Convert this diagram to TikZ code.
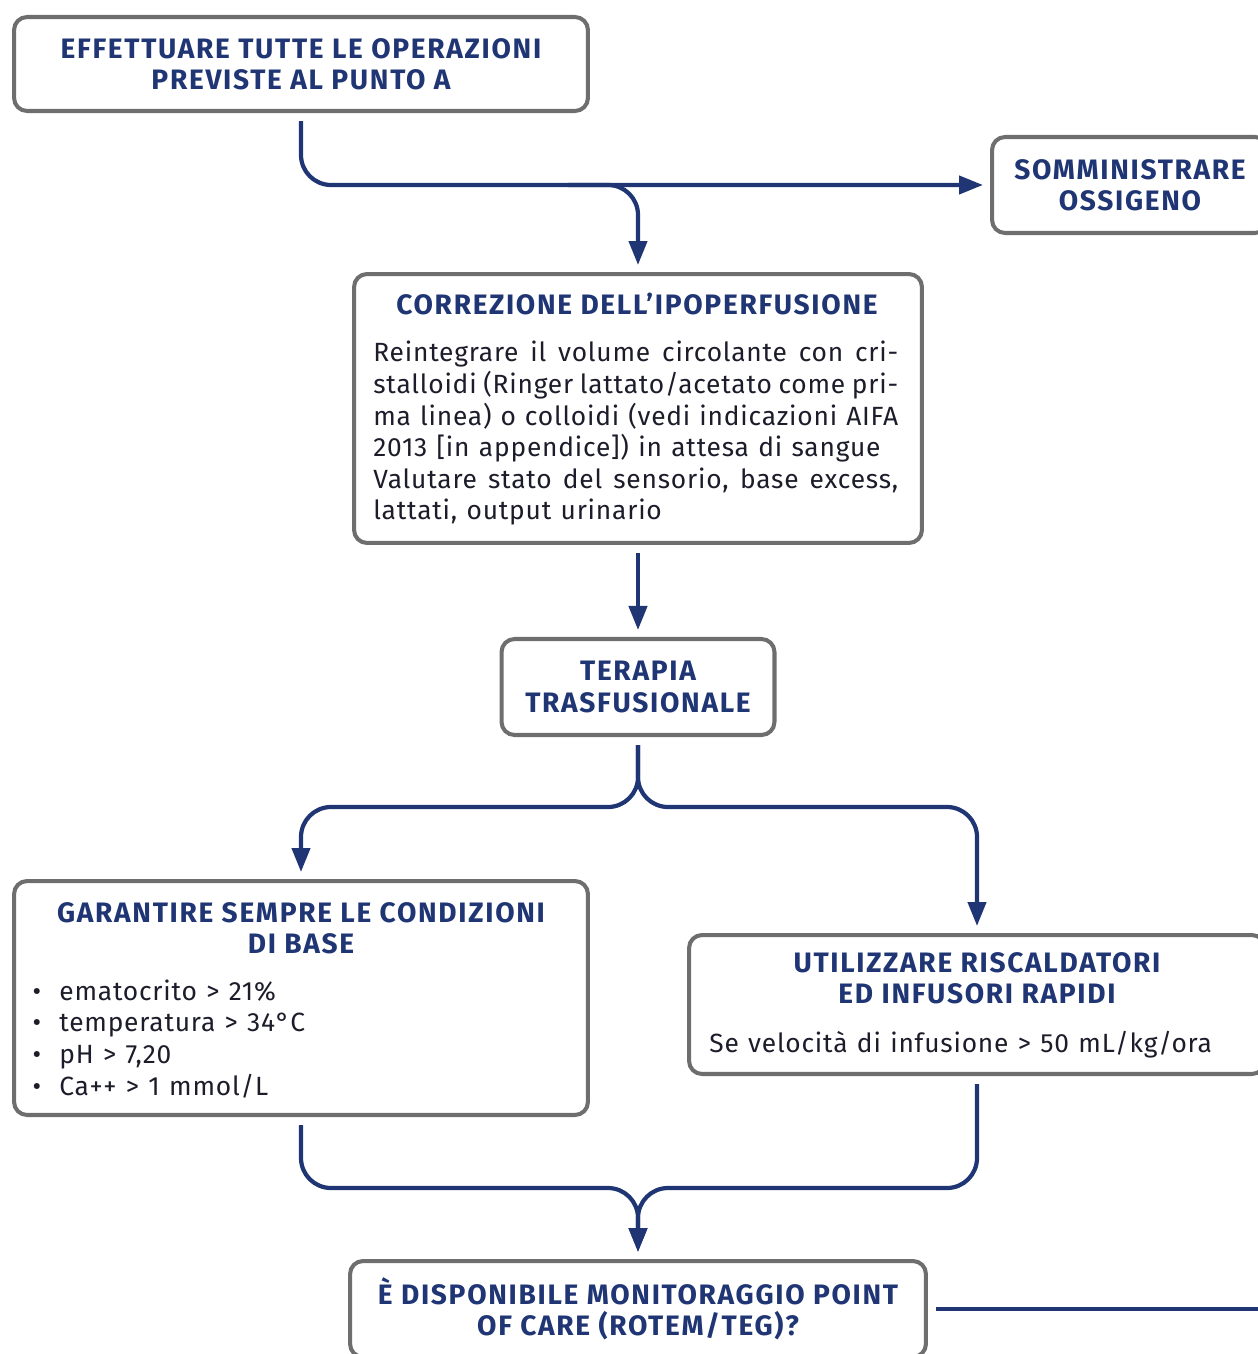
\documentclass[tikz,border=0pt]{standalone}
\usepackage{fontspec}
\setmainfont{Fira Sans}
\newfontfamily\headfam[LetterSpace=6]{Fira Sans}
\newfontfamily\bodyfam[LetterSpace=3, WordSpace=1.2]{Fira Sans}
\usetikzlibrary{arrows.meta}

\definecolor{navy}{HTML}{1F3574}
\definecolor{boxgray}{HTML}{6E6E6E}
\definecolor{ink}{HTML}{1C1C2A}

\newcommand{\headfont}{\headfam\bfseries\fontsize{16}{17.9}\selectfont}
\newcommand{\bodyfont}{\bodyfam\fontsize{15}{17.9}\selectfont}

\tikzset{
	box/.style={draw=boxgray, line width=2.3pt, rounded corners=0.26cm, inner sep=0pt,
		align=center, text=navy, font=\headfont},
	head/.style={text=navy, font=\headfont, align=center, inner sep=0pt},
	body/.style={text=ink, font=\bodyfont, inner sep=0pt},
	flow/.style={draw=navy, line width=2.4pt, rounded corners=0.6cm, shorten <=0.16cm,
		shorten >=0.14cm, -{Triangle[length=0.48cm,width=0.36cm]}},
	link/.style={draw=navy, line width=2.4pt, shorten <=0.16cm}
}

\begin{document}
\begin{tikzpicture}[x=0.02cm, y=-0.02cm]
	\useasboundingbox (0,0) rectangle (1257,1354);

	% boxes
	\node[box, minimum width=11.48cm, minimum height=1.88cm] (punto) at (301,64)
		{EFFETTUARE TUTTE LE OPERAZIONI\\PREVISTE AL PUNTO A};
	\node[box, minimum width=5.52cm, minimum height=1.92cm] (ossigeno) at (1130,185)
		{SOMMINISTRARE\\OSSIGENO};
	\node[box, minimum width=11.36cm, minimum height=5.38cm] (corr) at (638,408.5) {};
	\node[box, minimum width=5.46cm, minimum height=1.92cm] (trasf) at (638,687)
		{TERAPIA\\TRASFUSIONALE};
	\node[box, minimum width=11.48cm, minimum height=4.68cm] (gar) at (301,998) {};
	\node[box, minimum width=11.52cm, minimum height=2.78cm] (util) at (977,1004.5) {};
	\node[box, minimum width=11.52cm, minimum height=1.92cm] (poc) at (638,1309)
		{È DISPONIBILE MONITORAGGIO POINT\\OF CARE (ROTEM/TEG)?};

	% texts inside the boxes
	\node[head, anchor=base] (corr-h) at (637,315) {CORREZIONE DELL’IPOPERFUSIONE};
	\foreach \i/\t/\j in {1/{Reintegrare il volume circolante con cri-}/s,
			2/{stalloidi (Ringer lattato/acetato come pri-}/s,
			3/{ma linea) o colloidi (vedi indicazioni AIFA}/s,
			4/{2013 [in appendice]) in attesa di sangue}/l,
			5/{Valutare stato del sensorio, base excess,}/s,
			6/{lattati, output urinario}/l}
		\node[body, anchor=base west] (corr-\i) at (373,{330.3+31.6*\i}) {\makebox[10.5cm][\j]{\t}};

	\node[head] (gar-h) at (301,928) {GARANTIRE SEMPRE LE CONDIZIONI\\DI BASE};
	\foreach \i/\t in {1/{ematocrito > 21\%}, 2/{temperatura > 34°C},
			3/{pH > 7,20}, 4/{Ca++ > 1 mmol/L}} {
		\node[body, anchor=base] (gar-d\i) at (37,{968.5+31.7*\i}) {•};
		\node[body, anchor=base west] (gar-\i) at (59,{968.5+31.7*\i}) {\t};
	}

	\node[head] (util-h) at (977,978) {UTILIZZARE RISCALDATORI\\ED INFUSORI RAPIDI};
	\node[body, anchor=base west] (util-b) at (709,1052) {Se velocità di infusione > 50 mL/kg/ora};

	% connectors
	\coordinate (split) at (638,807);
	\coordinate (merge) at (638,1188);
	\draw[flow] (punto.south) |- (ossigeno.west);
	\draw[flow] (560,185) -| (corr.north);
	\draw[flow] (corr.south) -- (trasf.north);
	\draw[flow] (trasf.south) -- (split) -| (gar.north);
	\draw[flow] (trasf.south) -- (split) -| (util.north);
	\draw[flow] (gar.south) |- (merge) -- (poc.north);
	\draw[flow] (util.south) |- (merge) -- (poc.north);
	\draw[link] (poc.east) -- ++(400,0);
\end{tikzpicture}
\end{document}
